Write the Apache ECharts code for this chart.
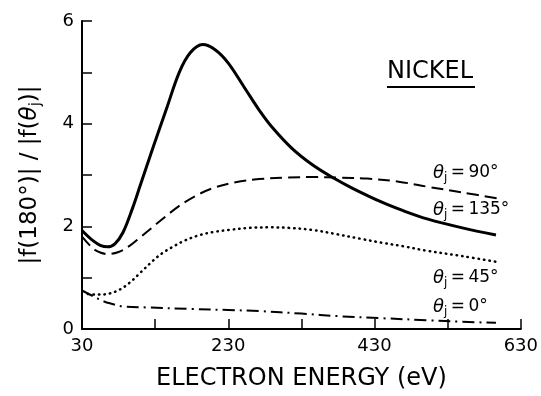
<!DOCTYPE html>
<html>
<head>
<meta charset="utf-8">
<script src="https://cdn.jsdelivr.net/npm/echarts@6/dist/echarts.min.js"></script>
<style>
  html, body { margin: 0; padding: 0; background: #fff; }
  #chart { width: 541px; height: 396px; }
</style>
</head>
<body>
<div id="chart"></div>
<script>
// ratio |f(180°)| / |f(θj)| vs electron energy (eV)
const theta135 = [
  [30, 1.92], [45, 1.72], [55, 1.63], [65, 1.6], [75, 1.66], [86, 1.88], [99, 2.35],
  [109, 2.77], [127, 3.53], [146, 4.31], [163, 5.0], [178, 5.38], [195, 5.54],
  [212, 5.44], [230, 5.18], [254, 4.66], [272, 4.27], [290, 3.93], [317, 3.52], [345, 3.2],
  [374, 2.94], [400, 2.74], [440, 2.47], [470, 2.3], [503, 2.14], [550, 1.97], [596, 1.83]
];
const theta90 = [
  [30, 1.8], [45, 1.57], [55, 1.49], [65, 1.46], [80, 1.5], [95, 1.62], [110, 1.79],
  [127, 1.99], [145, 2.2], [163, 2.4], [185, 2.59], [208, 2.74], [240, 2.86], [272, 2.92],
  [310, 2.95], [350, 2.96], [380, 2.95], [420, 2.93], [463, 2.87], [503, 2.77], [550, 2.66],
  [599, 2.54]
];
const theta45 = [
  [38, 0.68], [50, 0.67], [64, 0.68], [82, 0.77], [95, 0.9], [110, 1.1],
  [127, 1.33], [140, 1.48], [154, 1.6], [170, 1.72], [191, 1.83], [210, 1.89], [231, 1.93],
  [259, 1.97], [290, 1.98], [313, 1.97], [345, 1.93], [377, 1.85], [410, 1.76], [440, 1.68],
  [470, 1.61], [499, 1.53], [550, 1.42], [596, 1.31]
];
const theta0 = [
  [30, 0.75], [45, 0.64], [58, 0.55], [68, 0.5], [86, 0.44], [118, 0.42], [180, 0.39],
  [230, 0.37], [272, 0.35], [330, 0.3], [381, 0.25], [440, 0.21], [503, 0.17], [550, 0.14],
  [596, 0.12]
];
const curveAngles = ['90°', '135°', '45°', '0°'];
const plotTitle = 'NICKEL';
const xTitle = 'ELECTRON ENERGY (eV)';

const FONT = 'DejaVu Sans';
const subRich = {
  t: { fontFamily: FONT, fontStyle: 'italic', fontSize: 18, color: '#000' },
  s: { fontFamily: FONT, fontSize: 12, color: '#000', padding: [10, 0, 0, 0] },
  n: { fontFamily: FONT, fontSize: 17, color: '#000' }
};

function angleLabel(angle, x, y) {
  return {
    type: 'text',
    x: x,
    y: y,
    style: {
      text: '{t|θ}{s|j}{n|\u2009=\u2009' + angle + '}',
      rich: subRich,
      verticalAlign: 'middle'
    }
  };
}

const chart = echarts.init(document.getElementById('chart'));

const axisCommon = {
  axisLine: { show: true, onZero: false, lineStyle: { color: '#000', width: 2 } },
  axisTick: { show: true, inside: true, length: 10, lineStyle: { color: '#000', width: 1.5 } },
  minorTick: { show: true, splitNumber: 2, length: 10, lineStyle: { color: '#000', width: 1.5 } },
  splitLine: { show: false },
  axisLabel: { color: '#000', fontFamily: FONT, fontSize: 18, margin: 8 }
};

chart.setOption({
  animation: false,
  backgroundColor: '#fff',
  grid: { left: 82, right: 19, top: 21, bottom: 63 },
  xAxis: Object.assign({}, axisCommon, {
    type: 'value',
    min: 30,
    max: 630,
    interval: 200,
    name: xTitle,
    nameLocation: 'middle',
    nameGap: 38,
    nameTextStyle: { color: '#000', fontFamily: FONT, fontSize: 24 }
  }),
  yAxis: Object.assign({}, axisCommon, {
    type: 'value',
    min: 0,
    max: 6,
    interval: 2,
    name: '|f(180°)| / |f({t|θ}{s|j})|',
    nameLocation: 'middle',
    nameGap: 38,
    nameTextStyle: {
      color: '#000', fontFamily: FONT, fontSize: 23,
      rich: {
        t: { fontFamily: FONT, fontStyle: 'italic', fontSize: 23, color: '#000' },
        s: { fontFamily: FONT, fontSize: 15, color: '#000', padding: [12, 0, 0, 0] }
      }
    }
  }),
  series: [
    {
      type: 'line', data: theta135, smooth: 0.35, symbol: 'none',
      lineStyle: { color: '#000', width: 3 }
    },
    {
      type: 'line', data: theta90, smooth: 0.35, symbol: 'none',
      lineStyle: { color: '#000', width: 2, type: [12, 6] }
    },
    {
      type: 'line', data: theta45, smooth: 0.35, symbol: 'none',
      lineStyle: { color: '#000', width: 2.5, type: [0.5, 5], cap: 'round' }
    },
    {
      type: 'line', data: theta0, smooth: 0.35, symbol: 'none',
      lineStyle: { color: '#000', width: 2, type: [12, 5, 2, 5] }
    }
  ],
  graphic: [
    {
      type: 'text', x: 387, y: 72,
      style: { text: plotTitle, fontFamily: FONT, fontSize: 24, fill: '#000', verticalAlign: 'middle' }
    },
    {
      type: 'line', shape: { x1: 387, y1: 87, x2: 475, y2: 87 },
      style: { stroke: '#000', lineWidth: 2 }
    },
    angleLabel(curveAngles[0], 433, 173),
    angleLabel(curveAngles[1], 433, 210),
    angleLabel(curveAngles[2], 433, 278),
    angleLabel(curveAngles[3], 433, 307)
  ]
});
</script>
</body>
</html>
